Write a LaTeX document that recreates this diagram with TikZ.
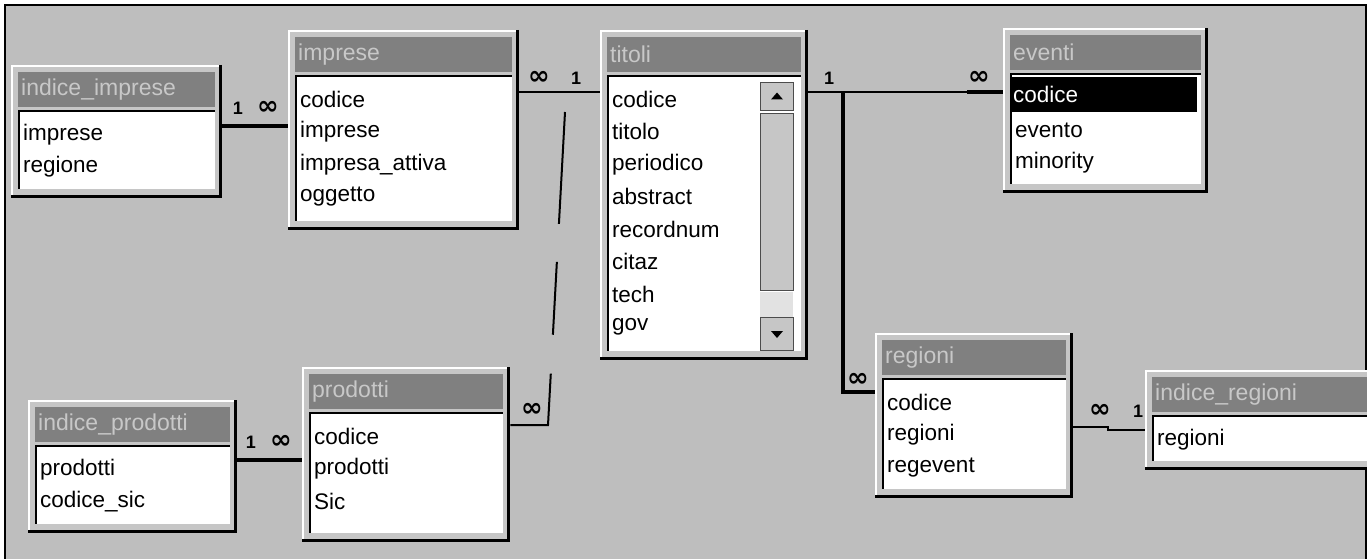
\documentclass[tikz,border=0pt]{standalone}
\usepackage{fontspec}
\setmainfont{Liberation Sans}
\newfontfamily\simbfont{DejaVu Sans}
\usetikzlibrary{positioning,calc}
\definecolor{Sfondo}{HTML}{BEBEBE}
\definecolor{Cornice}{HTML}{C6C6C6}
\definecolor{Barra}{HTML}{808080}
\definecolor{TestoBarra}{HTML}{C8C8C8}
\tikzset{
  finestra/.style  = {fill=Cornice, inner sep=0pt, anchor=north west},
  barra/.style     = {fill=Barra, text=TestoBarra, inner xsep=3pt, inner ysep=0pt,
                      minimum height=35pt, anchor=north west, align=left,
                      font=\fontsize{23}{25}\selectfont},
  lista/.style     = {fill=white, inner sep=0pt, anchor=north west},
  campo/.style     = {anchor=west, inner sep=1pt, font=\fontsize{22.5}{25}\selectfont},
  selez/.style     = {fill=black, text=white, text width=182pt, minimum height=35pt,
                      inner xsep=2pt, xshift=-3pt, yshift=3pt},
  primariga/.style = {},
  numriga/.code    = {\ifnum#1=1\relax\tikzset{primariga}\fi},
  pulsante/.style  = {fill=Cornice, draw=black!70, line width=1pt, anchor=north west, inner sep=0pt},
  traccia/.style   = {fill=Sfondo!45!white, anchor=north west, inner sep=0pt},
  rel/.style       = {line width=2.5pt},
  relspessa/.style = {line width=4.5pt},
  card/.style      = {font=\fontsize{18}{18}\selectfont\bfseries, inner sep=0pt},
}
\newcommand{\infinito}{{\simbfont\fontsize{26}{26}\selectfont\bfseries ∞}}
% [stile prima riga]{nome}{x}{y}{larghezza}{altezza}{titolo}{campi}
\newcommand{\tabella}[8][]{%
  \pgfmathsetmacro\largh{#5-14}%
  \pgfmathsetmacro\testol{#5-20}%
  \pgfmathsetmacro\altl{#6-55}%
  \node[finestra, minimum width=#5, minimum height=#6] (#2) at (#3,#4) {};
  \draw[white, line width=2pt] ([xshift=1pt]#2.south west) -- ([xshift=1pt,yshift=-1pt]#2.north west) -- ([yshift=-1pt]#2.north east);
  \draw[line width=3pt] ([xshift=-1.5pt]#2.north east) -- ([xshift=-1.5pt,yshift=1.5pt]#2.south east) -- ([yshift=1.5pt]#2.south west);
  \node[barra, text width=\testol pt] (#2-t) at ([xshift=7pt,yshift=-7pt]#2.north west) {#7};
  \node[lista, minimum width=\largh, minimum height=\altl] (#2-l) at ([yshift=-3pt]#2-t.south west) {};
  \draw[line width=2pt] ([xshift=1pt]#2-l.south west) -- ([xshift=1pt,yshift=-1pt]#2-l.north west) -- ([yshift=-1pt]#2-l.north east);
  \tikzset{primariga/.style={#1}}
  \foreach \nomecampo [count=\k] in {#8}
    \node[campo, numriga=\k] (#2-\k) at ([xshift=4pt,yshift={-24-(\k-1)*32.5}]#2-l.north west) {\nomecampo};
}
\begin{document}
\begin{tikzpicture}[x=1pt,y=-1pt]
  \useasboundingbox (0,0) rectangle (1367,559);
  \clip (0,0) rectangle (1367,559);
  \fill[white] (0,0) rectangle (1367,559);
  \fill[Sfondo] (5,5) rectangle (1366,559);
  \draw[line width=1.5pt] (5,559) -- (5,5) -- (1366,5) -- (1366,559);

  % tabelle
  \tabella{indimp}{11}{65}{211}{133}{indice\_imprese}{imprese,regione}
  \tabella{imp}{288}{30}{231}{200}{imprese}{codice,imprese,impresa\_attiva,oggetto}
  \tabella{tit}{600}{30}{208}{330}{titoli}{codice,titolo,periodico,abstract,recordnum,citaz,tech,gov}
  \tabella[selez]{eve}{1003}{28}{205}{165}{eventi}{codice,evento,minority}
  \tabella{indprod}{28}{400}{209}{133}{indice\_prodotti}{prodotti,codice\_sic}
  \tabella{prod}{302}{367}{208}{175}{prodotti}{codice,prodotti,Sic}
  \tabella{reg}{875}{333}{198}{165}{regioni}{codice,regioni,regevent}
  \tabella{indreg}{1145}{370}{240}{100}{indice\_regioni}{regioni}

  % barra di scorrimento di titoli
  \node[pulsante, minimum width=33, minimum height=28] (tit-su) at (760,82) {};
  \node[pulsante, minimum width=33, minimum height=177] (tit-cursore) at (760,113) {};
  \node[traccia, minimum width=33, minimum height=25] (tit-traccia) at (760,292) {};
  \node[pulsante, minimum width=33, minimum height=33] (tit-giu) at (760,317) {};
  \fill ([yshift=4pt]tit-su.center) -- ++(-6pt,-7pt) -- ++(12pt,0pt) -- cycle;
  \fill ([yshift=-4pt]tit-giu.center) -- ++(-6pt,7pt) -- ++(12pt,0pt) -- cycle;

  % relazioni
  \draw[relspessa] (indimp.east |- 0,126) -- (imp.west |- 0,126);
  \node[card] (c-ii-1) at (238,108) {1};
  \node[card] (c-ii-n) at (268,108) {\infinito};

  \draw[rel] (imp.east |- 0,92) -- (tit.west |- 0,92);
  \node[card] (c-it-n) at (539,78) {\infinito};
  \node[card] (c-it-1) at (576,78) {1};

  \coordinate (giunto) at (843,92);
  \draw[rel] (tit.east |- giunto) -- (eve.west |- giunto);
  \draw[relspessa] ($(eve.west |- giunto)+(-36,0)$) -- (eve.west |- giunto);
  \node[card] (c-te-1) at (829,78) {1};
  \node[card] (c-te-n) at (979,78) {\infinito};

  \draw[relspessa] (giunto) -- (giunto |- 0,392) -- (reg.west |- 0,392);
  \node[card] (c-tr-n) at (858,380) {\infinito};

  \draw[rel] (reg.east |- 0,427) -- (1108,427) -- (1108,430) -- (indreg.west |- 0,430);
  \node[card] (c-ri-n) at (1100,411) {\infinito};
  \node[card] (c-ri-1) at (1138,411) {1};

  \draw[relspessa] (indprod.east |- 0,460) -- (prod.west |- 0,460);
  \node[card] (c-pp-1) at (251,442) {1};
  \node[card] (c-pp-n) at (281,442) {\infinito};

  \coordinate (gomito) at (548,425);
  \coordinate (cima) at (565,112);
  \draw[line width=2pt, dash pattern=on 89pt off 39pt on 73pt off 38pt on 120pt off 10pt]
    (prod.east |- gomito) -- (gomito) -- (cima);
  \node[card] (c-pt-n) at (532,410) {\infinito};
\end{tikzpicture}
\end{document}
